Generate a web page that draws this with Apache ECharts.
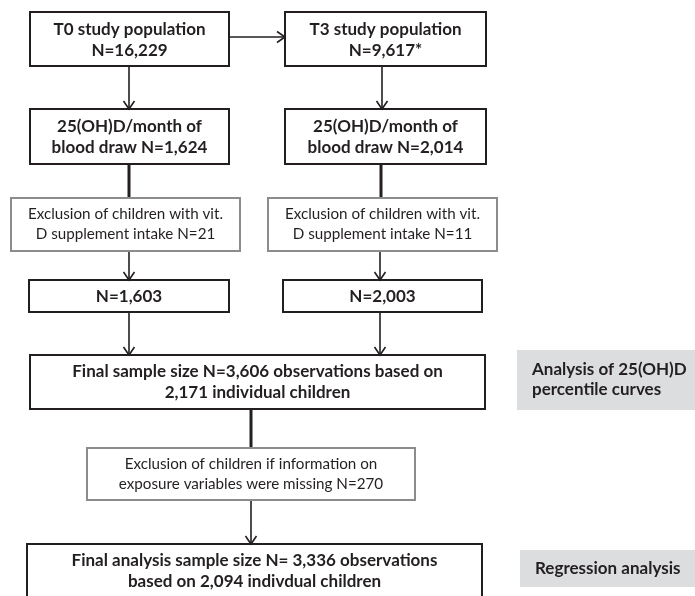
<!DOCTYPE html>
<html>
<head>
<meta charset="utf-8">
<script src="https://cdn.jsdelivr.net/npm/echarts@6/dist/echarts.min.js"></script>
<style>
  html, body { margin: 0; background: #fff; }
  #flow { width: 695px; height: 596px; }
</style>
</head>
<body>
<div id="flow"></div>
<script>
// texts of the flow chart
const mainLabels = [
  'T0 study population\nN=16,229',
  'T3 study population\nN=9,617*',
  '25(OH)D/month of\nblood draw N=1,624',
  '25(OH)D/month of\nblood draw N=2,014',
  'N=1,603',
  'N=2,003',
  'Final sample size N=3,606 observations based on\n2,171 individual children',
  'Final analysis sample size N= 3,336 observations\nbased on 2,094 indivdual children'
]
const exclusionLabels = [
  'Exclusion of children with vit.\nD supplement intake N=21',
  'Exclusion of children with vit.\nD supplement intake N=11',
  'Exclusion of children if information on\nexposure variables were missing N=270'
]
const sideLabels = [
  'Analysis of 25(OH)D\npercentile curves',
  'Regression analysis'
]

// layout: [x, y, w, h]
const mainRects = [
  [30, 12, 199, 54], [285, 12, 201, 54],
  [30, 109, 199, 55], [285, 109, 201, 55],
  [29, 280, 200, 32], [283, 280, 199, 32],
  [30, 355, 455, 54], [27, 544, 455, 70]
]
const mainTextY = [40, 40, 137.5, 137.5, 297, 297, 382, 571.5]
const exclRects = [[11, 198, 229, 53], [268, 198, 229, 53], [87, 448, 328, 52]]
const sideRects = [[517, 350, 180, 60], [520, 550, 177, 37]]
// connectors: [x1, y1, x2, y2, arrow?, width]
const links = [
  [229, 37, 285, 37, true, 1.6],
  [129, 66, 129, 109, true, 1.6],
  [382, 66, 382, 109, true, 1.6],
  [129, 164, 129, 198, false, 3],
  [381, 164, 381, 198, false, 3],
  [129, 251, 129, 280, true, 1.6],
  [380, 251, 380, 280, true, 1.6],
  [129, 312, 129, 355, true, 1.6],
  [380, 312, 380, 355, true, 1.6],
  [251, 409, 251, 448, false, 3],
  [251, 500, 251, 544, true, 1.6]
]

const dark = '#231f20'
const fontFam = 'Lato, "Open Sans", sans-serif'
const els = []

function textEl(str, x, y, font, lh, align) {
  return {
    type: 'text', x: x, y: y, silent: true, z: 10,
    style: {
      text: str, font: font, fill: dark, lineHeight: lh,
      align: align || 'center', verticalAlign: 'middle',
      textAlign: align || 'center', textVerticalAlign: 'middle'
    }
  }
}

mainRects.forEach(function (r, i) {
  els.push({
    type: 'rect', shape: { x: r[0], y: r[1], width: r[2], height: r[3] },
    style: { fill: '#fff', stroke: dark, lineWidth: 2 }, z: 5
  })
  els.push(textEl(mainLabels[i], r[0] + r[2] / 2, mainTextY[i], 'bold 17px ' + fontFam, 21))
})
exclRects.forEach(function (r, i) {
  els.push({
    type: 'rect', shape: { x: r[0], y: r[1], width: r[2], height: r[3] },
    style: { fill: '#fff', stroke: '#8c8c8c', lineWidth: 2 }, z: 5
  })
  els.push(textEl(exclusionLabels[i], r[0] + r[2] / 2, r[1] + r[3] / 2, '15.2px ' + fontFam, 20))
})
sideRects.forEach(function (r, i) {
  els.push({
    type: 'rect', shape: { x: r[0], y: r[1], width: r[2], height: r[3] },
    style: { fill: '#dcdddf' }, z: 5
  })
  els.push(textEl(sideLabels[i], r[0] + 15, r[1] + r[3] / 2, 'bold 17px ' + fontFam, 20, 'left'))
})
links.forEach(function (l) {
  els.push({
    type: 'polyline', shape: { points: [[l[0], l[1]], [l[2], l[3]]] },
    style: { stroke: dark, lineWidth: l[5] }, z: 3
  })
  if (l[4]) {
    let head
    if (l[1] === l[3]) {
      head = [[l[2] - 8, l[3] - 5.5], [l[2], l[3]], [l[2] - 8, l[3] + 5.5]]
    } else {
      head = [[l[2] - 5.5, l[3] - 8], [l[2], l[3]], [l[2] + 5.5, l[3] - 8]]
    }
    els.push({
      type: 'polyline', shape: { points: head },
      style: { stroke: dark, lineWidth: 1.6, fill: null }, z: 6
    })
  }
})

const chart = echarts.init(document.getElementById('flow'), null, { renderer: 'canvas' })
chart.setOption({
  backgroundColor: '#fff',
  animation: false,
  graphic: { elements: els }
})
</script>
</body>
</html>
